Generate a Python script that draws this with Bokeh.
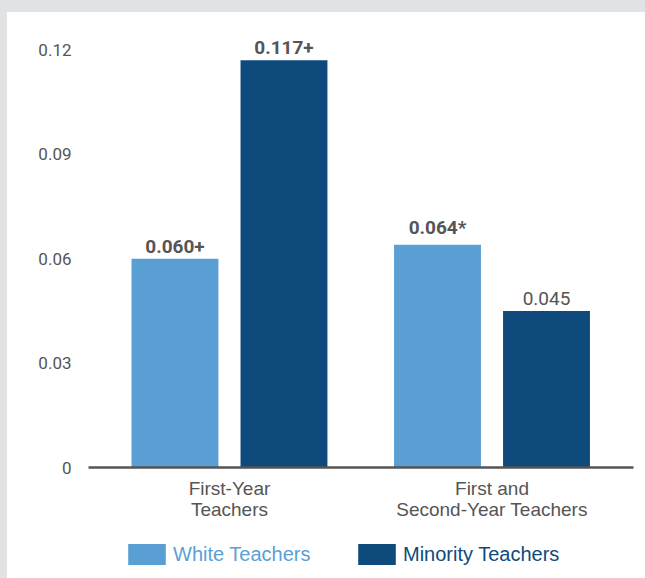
from bokeh.plotting import figure
from bokeh.models import (ColumnDataSource, Range1d, FixedTicker, Legend, LegendItem)
from bokeh.layouts import column
from bokeh.embed import file_html
from bokeh.resources import INLINE
from bokeh.core.properties import value

# ---- data ----
categories = ["First-Year\nTeachers", "First and\nSecond-Year Teachers"]
series = ["White Teachers", "Minority Teachers"]
white_values = [0.060, 0.064]
minority_values = [0.117, 0.045]
white_labels = ["0.060+", "0.064*"]
minority_labels = ["0.117+", "0.045"]
white_bold = [True, True]
minority_bold = [True, False]
y_ticks = [0, 0.03, 0.06, 0.09, 0.12]
y_tick_labels = ["0", "0.03", "0.06", "0.09", "0.12"]

# ---- style ----
LIGHT = "#5a9fd4"
DARK = "#0e4a7c"
GREY = "#555555"
NUM = "Roboto"
SANS = "'Liberation Sans', Arial, sans-serif"
offset = 0.2076
bar_w = 0.331

idx = list(range(len(categories)))

p = figure(width=638, height=518, output_backend="svg", toolbar_location=None,
           x_range=Range1d(-0.537, 1.539), y_range=Range1d(0, 0.125),
           min_border_left=81, min_border_right=12, min_border_top=20, min_border_bottom=63,
           background_fill_color="white", border_fill_color="white", outline_line_color=None)
p.margin = (12, 0, 0, 7)
p.styles = {"background-color": "white"}
p.grid.visible = False

src_w = ColumnDataSource(dict(x=[i - offset for i in idx], top=white_values, label=white_labels,
                              style=["bold" if b else "normal" for b in white_bold]))
src_m = ColumnDataSource(dict(x=[i + offset for i in idx], top=minority_values, label=minority_labels,
                              style=["bold" if b else "normal" for b in minority_bold]))

p.vbar(x="x", top="top", width=bar_w, bottom=0, source=src_w, fill_color=LIGHT, line_color=None)
p.vbar(x="x", top="top", width=bar_w, bottom=0, source=src_m, fill_color=DARK, line_color=None)

for src in (src_w, src_m):
    p.text(x="x", y="top", text="label", source=src, text_align="center", text_baseline="bottom",
           y_offset=-6, text_font=value(NUM), text_font_size="19px", text_font_style="style",
           text_color=GREY)

# x axis
xa = p.xaxis[0]
xa.ticker = FixedTicker(ticks=idx)
xa.major_label_overrides = {i: c for i, c in zip(idx, categories)}
xa.axis_line_color = GREY
xa.axis_line_width = 2.5
xa.major_tick_line_color = None
xa.minor_tick_line_color = None
xa.major_label_text_font = SANS
xa.major_label_text_font_size = "19px"
xa.major_label_text_color = GREY
xa.major_label_text_line_height = 1.0
xa.major_label_standoff = 4

# y axis
ya = p.yaxis[0]
ya.ticker = FixedTicker(ticks=y_ticks)
ya.major_label_overrides = {t: l for t, l in zip(y_ticks, y_tick_labels)}
ya.axis_line_color = None
ya.major_tick_line_color = None
ya.minor_tick_line_color = None
ya.major_label_text_font = NUM
ya.major_label_text_font_size = "17px"
ya.major_label_text_color = GREY
ya.major_label_standoff = 11

# legend strip below the chart (one legend per series so each label keeps its own colour);
# its frame is aligned with the main chart's frame by the column layout
lg = figure(width=638, height=48, output_backend="svg", toolbar_location=None,
            x_range=Range1d(5, 6), y_range=Range1d(5, 6),
            min_border_left=81, min_border_right=12, min_border_top=0, min_border_bottom=0,
            background_fill_color="white", border_fill_color="white", outline_line_color=None)
lg.margin = (0, 0, 0, 7)
lg.styles = {"background-color": "white"}
lg.axis.visible = False
lg.grid.visible = False
lr_w = lg.vbar(x="x", top="top", width=bar_w, source=src_w, fill_color=LIGHT, line_color=None)
lr_m = lg.vbar(x="x", top="top", width=bar_w, source=src_m, fill_color=DARK, line_color=None)

for label, r, color, loc in [(series[0], lr_w, LIGHT, (35, 11)), (series[1], lr_m, DARK, (265, 11))]:
    leg = Legend(items=[LegendItem(label=label, renderers=[r])], location=loc,
                 orientation="horizontal", glyph_width=47, glyph_height=26, label_height=26,
                 label_standoff=3, padding=0, margin=0, border_line_color=None,
                 background_fill_alpha=0, label_text_font=SANS, label_text_font_size="20px",
                 label_text_color=color)
    lg.add_layout(leg, "center")

layout = column(p, lg, spacing=0, styles={"background-color": "#e1e2e4"})
open("out.html", "w").write(file_html(layout, INLINE))
